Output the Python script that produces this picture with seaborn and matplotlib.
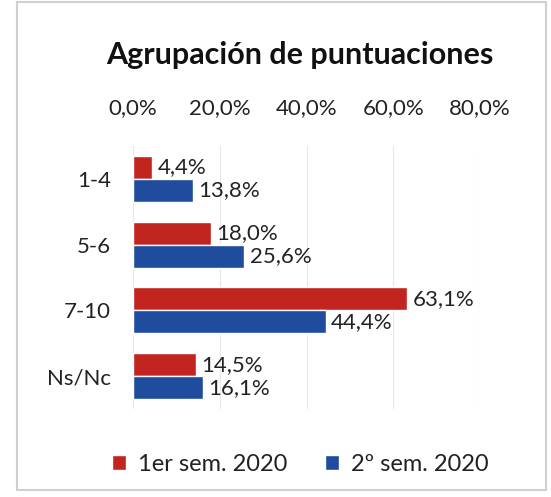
import pandas as pd
import seaborn as sns
import matplotlib.pyplot as plt
from matplotlib.patches import Rectangle

categories = ["1-4", "5-6", "7-10", "Ns/Nc"]
sem1 = [4.4, 18.0, 63.1, 14.5]
sem2 = [13.8, 25.6, 44.4, 16.1]
series = ["1er sem. 2020", "2º sem. 2020"]
colors = ["#C2241F", "#1F4C9C"]
ticks = [0, 20, 40, 60, 80]

df = pd.DataFrame({
    "cat": categories * 2,
    "val": sem1 + sem2,
    "serie": [series[0]] * 4 + [series[1]] * 4,
})

sns.set_style("white")
plt.rcParams["font.family"] = ["Lato", "DejaVu Sans"]

fig = plt.figure(figsize=(5.51, 4.97), dpi=100)
ax = fig.add_axes([0.2414, 0.177, 0.630, 0.529])
sns.barplot(data=df, y="cat", x="val", hue="serie", orient="h",
            palette=colors, saturation=1, width=0.7, ax=ax, legend=True)

ax.set_xlim(0, 80)
ax.set_xticks(ticks)
ax.set_xticklabels([f"{t:.1f}%".replace(".", ",") for t in ticks], fontsize=16, color="#222222")
ax.xaxis.tick_top()
ax.tick_params(axis="x", length=0, pad=20)
ax.tick_params(axis="y", length=0, pad=16, labelsize=16, labelcolor="#222222")
ax.set_xlabel("")
ax.set_ylabel("")
for s in ax.spines.values():
    s.set_visible(False)
ax.grid(axis="x", color="#e8e8e8", linewidth=0.8)
ax.set_axisbelow(True)

for cont in ax.containers:
    ax.bar_label(cont, labels=[f"{v:.1f}%".replace(".", ",") for v in cont.datavalues],
                 padding=4, fontsize=16, color="#222222")

ax.legend(loc="center", bbox_to_anchor=(0.545, 0.065), bbox_transform=fig.transFigure,
          ncol=2, frameon=False, fontsize=17, handlelength=0.6, handleheight=0.6,
          columnspacing=1.6, handletextpad=0.5, labelcolor="#222222")

fig.text(0.545, 0.889, "Agrupación de puntuaciones", ha="center", va="center",
         fontsize=22, fontweight="bold", color="#111111")
fig.patches.append(Rectangle((0.031, 0.015), 0.96, 0.98, transform=fig.transFigure,
                             fill=False, edgecolor="#d0d0d0", linewidth=1.5))

fig.savefig("out.png", dpi=100)
